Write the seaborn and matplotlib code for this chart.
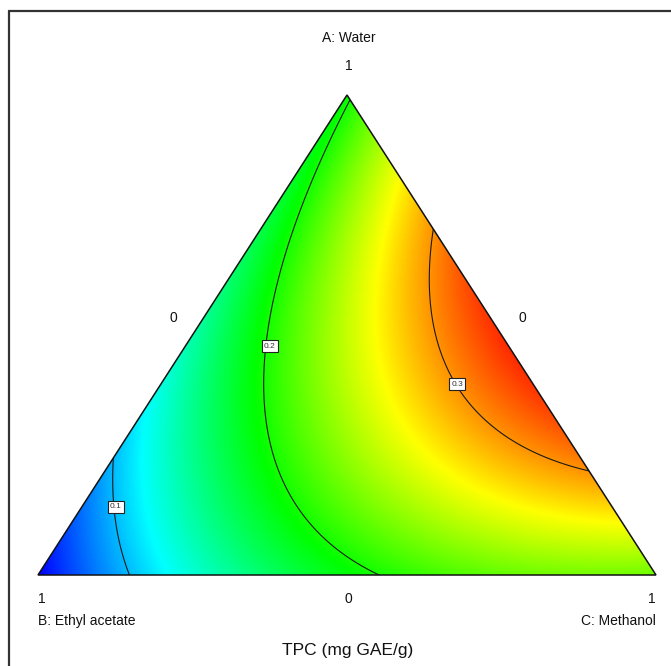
import numpy as np
import matplotlib
matplotlib.use('Agg')
import matplotlib.pyplot as plt
import seaborn as sns
from matplotlib.patches import Polygon
from matplotlib.lines import Line2D

# mixture components (vertex labels) and the fitted Scheffe quadratic model
components = ['A: Water', 'B: Ethyl acetate', 'C: Methanol']
linear_coef = [0.195, 0.045, 0.225]     # A, B, C
pair_coef = [0.10, 0.48, 0.225]         # AB, AC, BC
contour_levels = [0.1, 0.2, 0.3]
response = 'TPC (mg GAE/g)'
vertex_ticks = ['1', '1', '1']
edge_ticks = ['0', '0', '0']             # left edge, right edge, bottom edge
color_range = [0.045, 0.343]

W, H = 671, 666


def tpc(a, b, c):
    bA, bB, bC = linear_coef
    bAB, bAC, bBC = pair_coef
    return bA * a + bB * b + bC * c + bAB * a * b + bAC * a * c + bBC * b * c


sns.set_theme(style='white')
plt.rcParams['font.family'] = ['Liberation Sans', 'DejaVu Sans']

fig = plt.figure(figsize=(W / 100, H / 100), dpi=100)
ax = fig.add_axes([0, 0, 1, 1])
# triangle base 38..656 px, height 575..95 px
ax.set_xlim(-38 / 618, (W - 38) / 618)
ax.set_ylim(-(H - 575) / 480, 575 / 480)
ax.axis('off')

# grid in plot coords: y = A, x = C + A/2
xs = np.linspace(-0.02, 1.02, 700)
ys = np.linspace(-0.02, 1.02, 700)
X, Y = np.meshgrid(xs, ys)
A = Y
C = X - 0.5 * Y
B = 1 - A - C
Z = tpc(A, B, C)

cmap = sns.blend_palette(['#0000ff', '#00ffff', '#00ff00', '#ffff00', '#ff0000'], as_cmap=True)

tri = Polygon([[0, 0], [1, 0], [0.5, 1]], closed=True, fc='none', ec='#111111', lw=1.1, zorder=5)
ax.add_patch(tri)

img = ax.imshow(Z, extent=[xs[0], xs[-1], ys[0], ys[-1]], origin='lower', cmap=cmap,
                vmin=color_range[0], vmax=color_range[1], interpolation='bilinear', aspect='auto')
img.set_clip_path(tri)

cs = ax.contour(X, Y, Z, levels=contour_levels, colors='#1a1a1a', linewidths=0.8)
cs.set_clip_path(tri)

# contour labels
label_px = [(116, 507), (270, 346), (457, 384)]
for lev, (px, py) in zip(contour_levels, label_px):
    ax.text((px - 38) / 618, (575 - py) / 480, f'{lev:g}', fontsize=6, ha='center', va='center',
            color='#333333', zorder=6,
            bbox=dict(boxstyle='square,pad=0.3', fc='white', ec='#222222', lw=0.8))


def ftext(px, py, s, **kw):
    fig.text(px / W, 1 - py / H, s, va='center', color='#111111', **kw)


ftext(349, 38, components[0], ha='center', fontsize=10)
ftext(349, 66, vertex_ticks[0], ha='center', fontsize=10)
ftext(173, 318, edge_ticks[0], ha='center', fontsize=10)
ftext(522, 318, edge_ticks[1], ha='center', fontsize=10)
ftext(42, 599, vertex_ticks[1], ha='center', fontsize=10)
ftext(348, 599, edge_ticks[2], ha='center', fontsize=10)
ftext(652, 599, vertex_ticks[2], ha='center', fontsize=10)
ftext(38, 621, components[1], ha='left', fontsize=10)
ftext(656, 621, components[2], ha='right', fontsize=10)
ftext(348, 650, response, ha='center', fontsize=12.5)

# outer frame (only left and top edges fall inside the image)
fig.add_artist(Line2D([8.5 / W, 8.5 / W], [0, 1 - 11 / H], transform=fig.transFigure, color='#333333', lw=1.6))
fig.add_artist(Line2D([8.5 / W, 1], [1 - 11 / H, 1 - 11 / H], transform=fig.transFigure, color='#333333', lw=1.6))

fig.savefig('out.png', dpi=100)
